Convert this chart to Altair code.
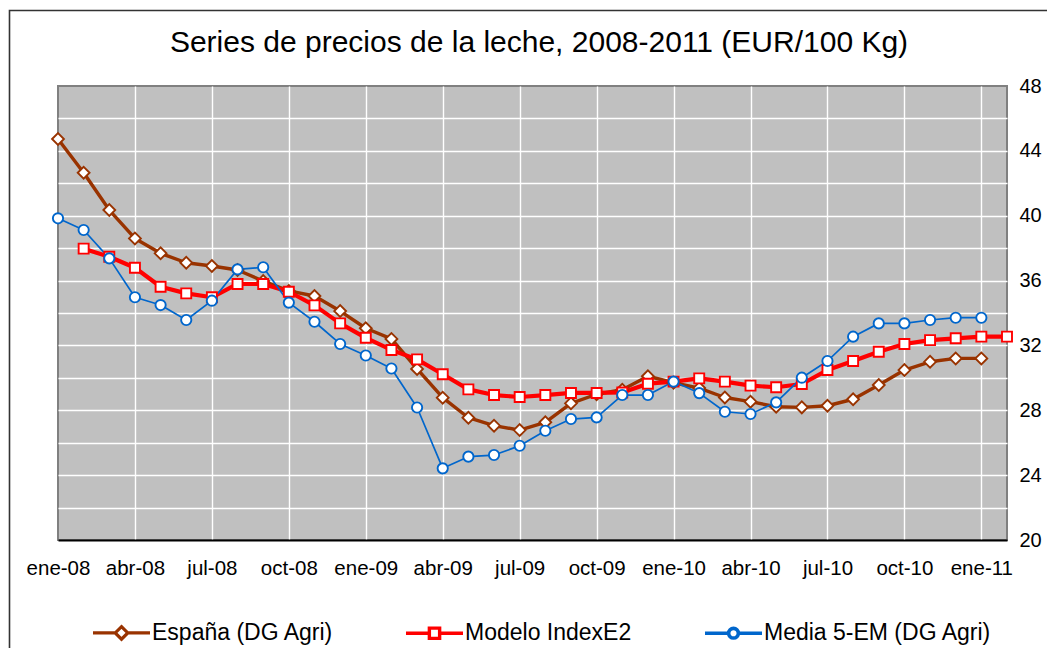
import altair as alt
import pandas as pd

meses = ['ene-08', 'feb-08', 'mar-08', 'abr-08', 'may-08', 'jun-08', 'jul-08', 'ago-08', 'sep-08', 'oct-08', 'nov-08', 'dic-08',
         'ene-09', 'feb-09', 'mar-09', 'abr-09', 'may-09', 'jun-09', 'jul-09', 'ago-09', 'sep-09', 'oct-09', 'nov-09', 'dic-09',
         'ene-10', 'feb-10', 'mar-10', 'abr-10', 'may-10', 'jun-10', 'jul-10', 'ago-10', 'sep-10', 'oct-10', 'nov-10', 'dic-10',
         'ene-11', 'feb-11']

espana = [44.73, 42.65, 40.35, 38.60, 37.68, 37.10, 36.90, 36.65, 35.97, 35.36, 35.05, 34.12,
          33.06, 32.40, 30.55, 28.78, 27.54, 27.05, 26.78, 27.26, 28.43, 28.99, 29.27, 30.10,
          29.70, 29.37, 28.79, 28.53, 28.22, 28.18, 28.28, 28.68, 29.56, 30.48, 30.99, 31.20,
          31.20, None]

modelo = [None, 37.97, 37.47, 36.79, 35.62, 35.21, 34.97, 35.79, 35.79, 35.31, 34.47, 33.36,
          32.47, 31.72, 31.14, 30.22, 29.29, 28.94, 28.82, 28.94, 29.07, 29.07, 29.10, 29.64,
          29.77, 29.97, 29.77, 29.52, 29.42, 29.62, 30.48, 31.04, 31.61, 32.09, 32.33, 32.44,
          32.54, 32.54]

media = [39.84, 39.12, 37.37, 34.97, 34.49, 33.57, 34.76, 36.69, 36.82, 34.64, 33.46, 32.09,
         31.38, 30.58, 28.17, 24.42, 25.14, 25.24, 25.81, 26.74, 27.46, 27.56, 28.94, 28.94,
         29.77, 29.06, 27.91, 27.77, 28.49, 30.01, 31.04, 32.54, 33.36, 33.36, 33.57, 33.71,
         33.71, None]

etiquetas_x = ['ene-08', 'abr-08', 'jul-08', 'oct-08', 'ene-09', 'abr-09', 'jul-09', 'oct-09',
               'ene-10', 'abr-10', 'jul-10', 'oct-10', 'ene-11']
ticks_y = list(range(20, 49, 2))

titulo = 'Series de precios de la leche, 2008-2011 (EUR/100 Kg)'
series = ['España (DG Agri)', 'Modelo IndexE2', 'Media 5-EM (DG Agri)']
valores = [espana, modelo, media]
colores = ['#993300', '#FF0000', '#0066CC']
grosor = [3.4, 4.2, 1.7]
formas = ['diamond', 'square', 'circle']
tamanos = [140, 100, 105]
simbolos_leyenda = [
    'M-1,0L-0.22,0M0.22,0L1,0M0,-0.22L0.22,0L0,0.22L-0.22,0Z',
    'M-1,0L-0.18,0M0.18,0L1,0M-0.18,-0.18L0.18,-0.18L0.18,0.18L-0.18,0.18Z',
    'M-1,0L-0.17,0M0.17,0L1,0M-0.17,0A0.17,0.17 0 1,0 0.17,0A0.17,0.17 0 1,0 -0.17,0Z',
]

FONT = 'Liberation Sans'

x_enc = alt.X('mes:O', sort=meses,
              scale=alt.Scale(type='point', padding=0, domain=meses),
              axis=alt.Axis(values=etiquetas_x, title=None, labelAngle=0, grid=True,
                            gridColor='white', gridWidth=1.4,
                            gridOpacity={"condition": {"test": "datum.value == 'ene-08'", "value": 0}, "value": 1},
                            ticks=False, domainColor='black', domainWidth=2,
                            labelFontSize=20.5, labelPadding=18, labelColor='black', labelFont=FONT))
y_enc = alt.Y('valor:Q',
              scale=alt.Scale(domain=[20, 48], nice=False, zero=False),
              axis=alt.Axis(orient='right', values=ticks_y, title=None, grid=True,
                            gridColor='white', gridWidth=1.4,
                            gridOpacity={"condition": {"test": "datum.value == 20 || datum.value == 48", "value": 0}, "value": 1},
                            labelExpr="datum.value % 4 == 0 ? datum.label : ''",
                            ticks=False, domain=False, labelFontSize=20, labelPadding=12,
                            labelColor='black', labelFont=FONT))

frames = []
for nombre, vals in zip(series, valores):
    frames.append(pd.DataFrame({'mes': meses, 'valor': vals, 'serie': nombre}).dropna())

uno = pd.DataFrame({'a': [0]})

# outer chart frame (decoration)
marco = alt.Chart(uno).mark_rect(
    fill='transparent', stroke='#333333', strokeWidth=1.6
).encode(x=alt.value(-48.5), x2=alt.value(1200), y=alt.value(-75.5), y2=alt.value(900))

cabecera = alt.Chart(uno).mark_text(
    text=titulo, fontSize=30, font=FONT, color='black', align='center', baseline='middle'
).encode(x=alt.value(481), y=alt.value(-43))

lineas = []
puntos = []
for df, c, w, f, s in zip(frames, colores, grosor, formas, tamanos):
    lineas.append(alt.Chart(df).mark_line(color=c, strokeWidth=w, strokeJoin='round').encode(x=x_enc, y=y_enc))
    puntos.append(alt.Chart(df).mark_point(shape=f, size=s, filled=True, fill='white', stroke=c,
                                           strokeWidth=1.9, opacity=1).encode(x=x_enc, y=y_enc))

leg = alt.Legend(title=None, orient='none', legendX=33, legendY=516, direction='horizontal',
                 columns=3, symbolSize=3250, labelFontSize=23, labelFont=FONT, labelColor='black',
                 columnPadding=65, labelOffset=0, labelLimit=500, symbolFillColor='white', symbolOpacity=1)
df_ley = pd.DataFrame({'serie': series})
leyenda = alt.Chart(df_ley).mark_point(filled=True, fill='white', opacity=0, size=3250).encode(
    shape=alt.Shape('serie:N', scale=alt.Scale(domain=series, range=simbolos_leyenda), legend=leg),
    stroke=alt.Stroke('serie:N', scale=alt.Scale(domain=series, range=colores), legend=leg),
    strokeWidth=alt.StrokeWidth('serie:N', scale=alt.Scale(domain=series, range=[3.2, 3.6, 1.8]), legend=leg),
)

chart = alt.layer(marco, cabecera, *lineas, *puntos, leyenda).properties(
    width=949, height=454,
    view=alt.ViewBackground(fill='#C0C0C0', stroke='#808080', strokeWidth=2),
    autosize=alt.AutoSizeParams(type='none'),
    padding={'left': 50, 'top': 78, 'right': 40, 'bottom': 108},
).configure(
    background='white',
    view=alt.ViewConfig(fill='#C0C0C0', stroke='#808080', strokeWidth=2),
)

chart.save('out.html', embed_options={'renderer': 'svg', 'actions': False})
